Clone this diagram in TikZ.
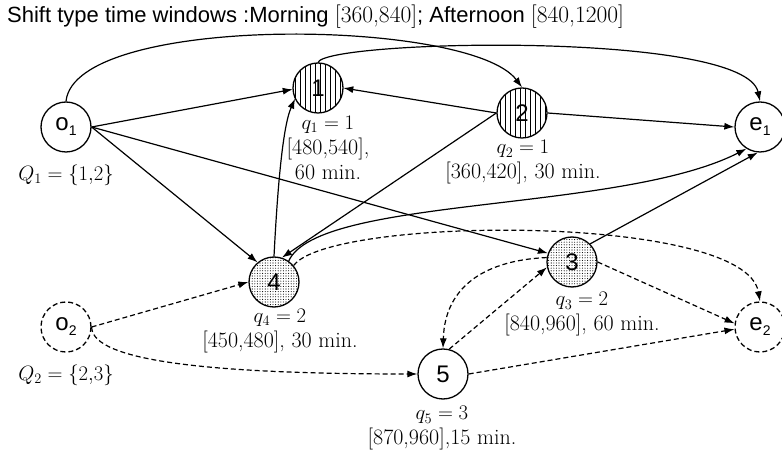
\documentclass[tikz,border=0pt]{standalone}
\usepackage{fontspec}
\newfontfamily\arial{Liberation Sans}
\usetikzlibrary{arrows.meta,patterns.meta}
\newcommand\nsub[1]{\raisebox{-0.4ex}{\fontsize{14}{14}\selectfont #1}}
\newcommand\tbr[1]{{\rmfamily\fontsize{23.5}{26}\selectfont #1}}
\begin{document}
\begin{tikzpicture}[x=1pt,y=1pt,
  vtx/.style={circle,draw,line width=1.3pt,minimum size=50pt,inner sep=0pt,font=\arial\fontsize{24}{24}\selectfont},
  hatched/.style={pattern={Lines[angle=90,distance=5pt,line width=0.6pt]}},
  dotfill/.style={pattern={Dots[distance=2.6pt,radius=0.55pt]}},
  dashnode/.style={dash pattern=on 5pt off 3pt},
  edge/.style={line width=1.2pt,-{Latex[length=10pt,width=7pt]}},
  dedge/.style={edge,dash pattern=on 5pt off 3pt},
  lab/.style={font=\fontsize{22}{25}\selectfont,align=center,inner sep=0pt},
]
\useasboundingbox (0,0) rectangle (782,458);
% title
\node[anchor=west,inner sep=0pt,font=\arial\fontsize{22}{26}\selectfont] (title) at (7,441)
  {Shift type time windows :Morning \tbr{[360,840]}; Afternoon \tbr{[840,1200]}};
% vertices
\node[vtx] (o1) at (66,331) {o\nsub{1}};
\node[vtx,hatched] (n1) at (318,370) {1};
\node[vtx,hatched] (n2) at (522,345) {2};
\node[vtx] (e1) at (760,331) {e\nsub{1}};
\node[vtx,dotfill] (n4) at (274,176) {4};
\node[vtx,dotfill] (n3) at (572,196) {3};
\node[vtx,dashnode] (o2) at (66,131) {o\nsub{2}};
\node[vtx] (n5) at (443,84) {5};
\node[vtx,dashnode] (e2) at (760,131) {e\nsub{2}};
% labels
\node[lab] (lQ1) at (66,283) {$Q_1 = \{1{,}2\}$};
\node[lab] (lQ2) at (66,83) {$Q_2 = \{2{,}3\}$};
\node[lab] (l1) at (328,310.5) {$q_1 = 1$\\{}[480,540],\\60 min.};
\node[lab] (l2) at (523,295.5) {$q_2 = 1$\\{}[360,420], 30 min.};
\node[lab] (l4) at (280,127) {$q_4 = 2$\\{}[450,480], 30 min.};
\node[lab] (l3) at (582,143.5) {$q_3 = 2$\\{}[840,960], 60 min.};
\node[lab] (l5) at (442,29.5) {$q_5 = 3$\\{}[870,960],15 min.};
% solid edges
\draw[edge] (o1.north) .. controls (75,445) and (470,440) .. (n2.north);
\draw[edge] (n1.north) .. controls (322,418) and (745,428) .. (e1.north);
\draw[edge] (o1.east) -- (n1.183);
\draw[edge] (n2.west) -- (n1.east);
\draw[edge] (n2.east) -- (e1.west);
\draw[edge] (o1.east) -- (n4.130);
\draw[edge] (o1.east) -- (n3.160);
\draw[edge] (n4.north) .. controls (277,260) and (282,330) .. (n1.205);
\draw[edge] (n2.west) -- (n4.72);
\draw[edge] (n4.55) .. controls (318,262) and (620,245) .. (e1.238);
\draw[edge] (n3.45) -- (e1.265);
% dashed edges
\draw[dedge] (o2.east) -- (n4.west);
\draw[dedge] (o2.east) .. controls +(0,-35) and +(-200,0) .. (n5.west);
\draw[dedge] (n4.40) .. controls (330,242) and (745,245) .. (e2.north);
\draw[dedge] (n3.east) -- (e2.172);
\draw[dedge] (n5.east) -- (e2.185);
\draw[dedge] (n5.76) -- (n3.192);
\draw[dedge] (n3.170) .. controls (490,198) and (445,175) .. (n5.north);
\end{tikzpicture}
\end{document}
